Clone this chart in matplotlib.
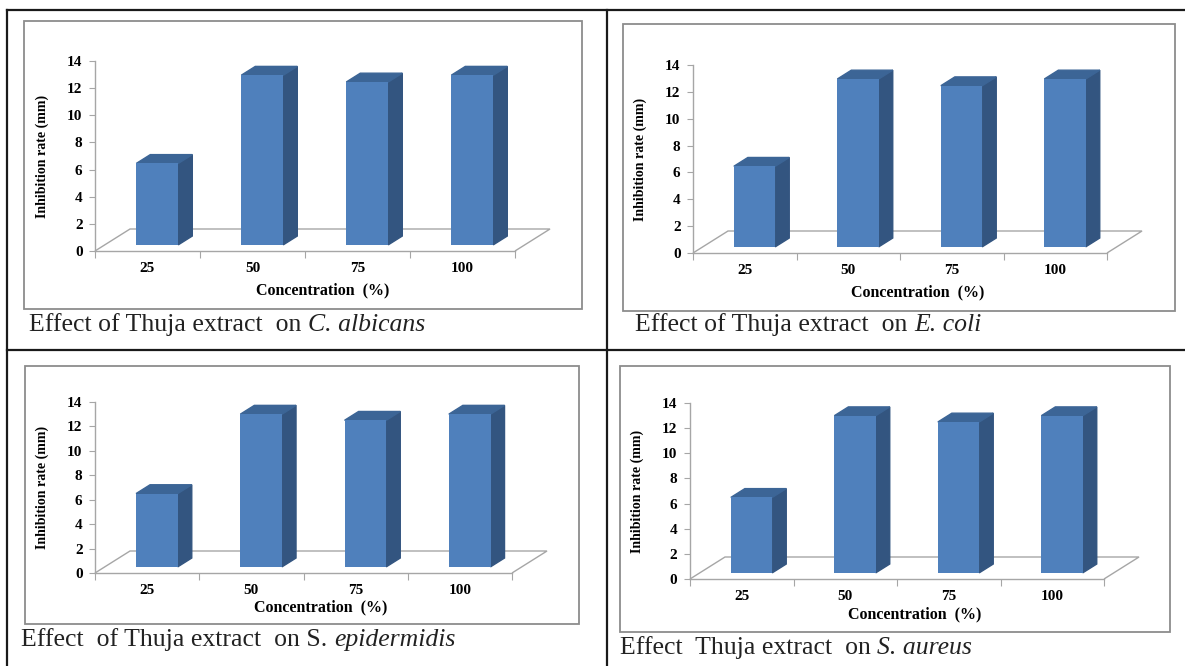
import matplotlib.pyplot as plt
from matplotlib.patches import Rectangle, Polygon
from matplotlib.lines import Line2D
import matplotlib.transforms as mtransforms

W, H = 1185, 666

concentrations = ['25', '50', '75', '100']
c_albicans = [6, 12.5, 12, 12.5]
e_coli = [6, 12.5, 12, 12.5]
s_epidermidis = [6, 12.5, 12, 12.5]
s_aureus = [6, 12.5, 12, 12.5]

captions = [
    ('Effect of Thuja extract  on ', 'C. albicans'),
    ('Effect of Thuja extract  on ', 'E. coli'),
    ('Effect  of Thuja extract  on S. ', 'epidermidis'),
    ('Effect  Thuja extract  on ', 'S. aureus'),
]

FRONT = '#4F80BC'
SIDE = '#335580'
TOP = '#3C6596'
GRID = '#A6A6A6'
SERIF = 'Liberation Serif'

fig = plt.figure(figsize=(W / 100, H / 100), dpi=100)


def fx(x):
    return x / W


def fy(y):
    return 1 - y / H


# table lines
for (xa, ya, xb, yb) in [(7, 9.5, W, 9.5), (7, 9.5, 7, H), (607, 9.5, 607, H), (7, 350, W, 350)]:
    fig.add_artist(Line2D([fx(xa), fx(xb)], [fy(ya), fy(yb)], color='#1a1a1a', lw=1.6))


def draw_panel(frame, box, values, caption, cap_xy, xlab_y):
    # chart frame
    l, t, r, b = frame
    fig.add_artist(Rectangle((fx(l), fy(b)), fx(r - l), (b - t) / H, fill=False,
                             edgecolor='#8C8C8C', lw=1.3))
    x0, y1, x1, y0 = box
    ax = fig.add_axes([fx(x0), fy(y0), fx(x1 - x0), (y0 - y1) / H])
    ax.set_xlim(0, 4)
    ax.set_ylim(0, 14)
    ax.patch.set_alpha(0)
    for s in ['top', 'right']:
        ax.spines[s].set_visible(False)
    for s in ['left', 'bottom']:
        ax.spines[s].set_color(GRID)
        ax.spines[s].set_linewidth(1)

    ddx = 35 / ((x1 - x0) / 4)
    ddy = 22 / ((y0 - y1) / 14)
    d0, d1 = 0.28, 0.68

    # floor
    ax.add_patch(Polygon([(0, 0), (ddx, ddy), (4 + ddx, ddy), (4, 0)], closed=False,
                         fill=False, edgecolor=GRID, lw=1, clip_on=False, zorder=1))

    xs = [i + 0.5 + d0 * ddx for i in range(len(values))]
    ax.bar(xs, values, width=0.4, bottom=d0 * ddy, color=FRONT, zorder=3, clip_on=False)
    for i, v in enumerate(values):
        xl, xr = i + 0.3, i + 0.7
        side = [(xr + d0 * ddx, d0 * ddy), (xr + d1 * ddx, d1 * ddy),
                (xr + d1 * ddx, d1 * ddy + v), (xr + d0 * ddx, d0 * ddy + v)]
        top = [(xl + d0 * ddx, d0 * ddy + v), (xr + d0 * ddx, d0 * ddy + v),
               (xr + d1 * ddx, d1 * ddy + v), (xl + d1 * ddx, d1 * ddy + v)]
        ax.add_patch(Polygon(side, color=SIDE, clip_on=False, zorder=2))
        ax.add_patch(Polygon(top, color=TOP, clip_on=False, zorder=2))

    ax.set_yticks(range(0, 15, 2))
    ax.set_xticks(range(5))
    ax.set_xticklabels([])
    ax.set_xticks([i + 0.5 for i in range(4)], minor=True)
    ax.set_xticklabels(concentrations, minor=True)
    ax.tick_params(axis='x', which='major', length=5, color=GRID, direction='out')
    ax.tick_params(axis='x', which='minor', length=0, pad=8)
    ax.tick_params(axis='y', length=4, color=GRID, pad=5)
    for lab in ax.get_xticklabels(minor=True) + ax.get_yticklabels():
        lab.set_fontfamily(SERIF)
        lab.set_fontweight('bold')
        lab.set_fontsize(11)
    ax.set_ylabel('Inhibition rate (mm)', fontfamily=SERIF, fontweight='bold', fontsize=10)
    ax.yaxis.set_label_coords(-46 / (x1 - x0), 0.5)
    trans = mtransforms.blended_transform_factory(ax.transData, ax.transAxes)
    ax.text(2 + ddx / 2, (y0 - xlab_y) / (y0 - y1), 'Concentration  (%)', transform=trans,
            ha='center', va='center', fontfamily=SERIF, fontweight='bold', fontsize=11.5)

    # caption
    t1 = fig.text(fx(cap_xy[0]), fy(cap_xy[1]), caption[0], fontfamily=SERIF, fontsize=18.5,
                  ha='left', va='center', color='#222222')
    ax.annotate(caption[1], xy=(1, 0), xycoords=t1, ha='left', va='bottom',
                fontfamily=SERIF, fontsize=18.5, style='italic', color='#222222',
                annotation_clip=False)


draw_panel((24, 21, 582, 309), (95, 61, 515, 251), c_albicans, captions[0], (29, 325), 290)
draw_panel((623, 24, 1175, 311), (693, 65, 1107, 253), e_coli, captions[1], (635, 325), 292)
draw_panel((25, 366, 579, 624), (95, 402, 512, 573), s_epidermidis, captions[2], (21, 640), 607)
draw_panel((620, 366, 1170, 632), (690, 403, 1104, 579), s_aureus, captions[3], (620, 648), 614)

fig.savefig('out.png', dpi=100)
